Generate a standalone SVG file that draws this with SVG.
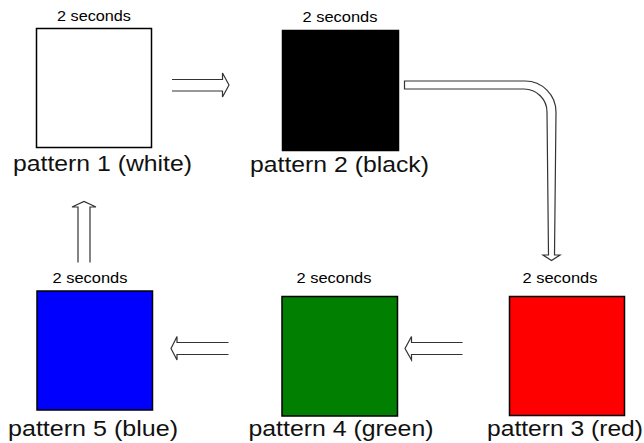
<svg xmlns="http://www.w3.org/2000/svg" width="644" height="443" viewBox="0 0 644 443">
  <style>
    .box { stroke: #000; stroke-width: 1.5; }
    .dur { font-family: "Liberation Sans", Arial, sans-serif; font-size: 15px; fill: #000; text-anchor: middle; }
    .name { font-family: "Liberation Sans", Arial, sans-serif; font-size: 22.5px; fill: #111; text-anchor: middle; }
    .arrow { fill: none; stroke: #333; stroke-width: 1.2; stroke-linejoin: miter; }
  </style>
  <rect width="644" height="443" fill="#fff"/>

  <!-- pattern nodes -->
  <g id="pattern1">
    <text class="dur" x="94" y="21" textLength="74" lengthAdjust="spacingAndGlyphs">2 seconds</text>
    <rect class="box" x="36.5" y="28.5" width="115" height="119" fill="#fff"/>
    <text class="name" x="102.5" y="170.5" textLength="179" lengthAdjust="spacingAndGlyphs">pattern 1 (white)</text>
  </g>
  <g id="pattern2">
    <text class="dur" x="340" y="21.5" textLength="75" lengthAdjust="spacingAndGlyphs">2 seconds</text>
    <rect class="box" x="282.5" y="30.5" width="116" height="120" fill="#000"/>
    <text class="name" x="339.5" y="172" textLength="179" lengthAdjust="spacingAndGlyphs">pattern 2 (black)</text>
  </g>
  <g id="pattern3">
    <text class="dur" x="560" y="283" textLength="75" lengthAdjust="spacingAndGlyphs">2 seconds</text>
    <rect class="box" x="509.5" y="296.5" width="115" height="119" fill="#ff0000"/>
    <text class="name" x="565" y="436" textLength="156" lengthAdjust="spacingAndGlyphs">pattern 3 (red)</text>
  </g>
  <g id="pattern4">
    <text class="dur" x="334" y="282.5" textLength="75" lengthAdjust="spacingAndGlyphs">2 seconds</text>
    <rect class="box" x="282" y="296.5" width="115.5" height="119.5" fill="#007f00"/>
    <text class="name" x="341" y="436" textLength="185" lengthAdjust="spacingAndGlyphs">pattern 4 (green)</text>
  </g>
  <g id="pattern5">
    <text class="dur" x="90" y="282.5" textLength="75" lengthAdjust="spacingAndGlyphs">2 seconds</text>
    <rect class="box" x="37" y="291" width="115.5" height="119" fill="#0000ff"/>
    <text class="name" x="93" y="436" textLength="170" lengthAdjust="spacingAndGlyphs">pattern 5 (blue)</text>
  </g>

  <!-- hollow block arrows between patterns -->
  <g id="connectors">
    <path class="arrow" d="M172,79.5 H222.5 V73 L229,85 L222.5,97 V91 H172"/>
    <path class="arrow" d="M404.5,81 H525 A31,31 0 0 1 556,112 L554.5,255 H560 L551.5,260.5 L543,255 H548.5 L547,112 A23,23 0 0 0 524,89 H404.5 Z"/>
    <path class="arrow" d="M462.5,342.5 H411.5 V336.5 L405,348.5 L411.5,360 V354.5 H462.5"/>
    <path class="arrow" d="M228.5,342.5 H177 V336.5 L171,348.5 L177,360 V354.5 H228.5"/>
    <path class="arrow" d="M78,262.5 V207 H72 L84,201.5 L96,207 H90 V262.5"/>
  </g>
</svg>
